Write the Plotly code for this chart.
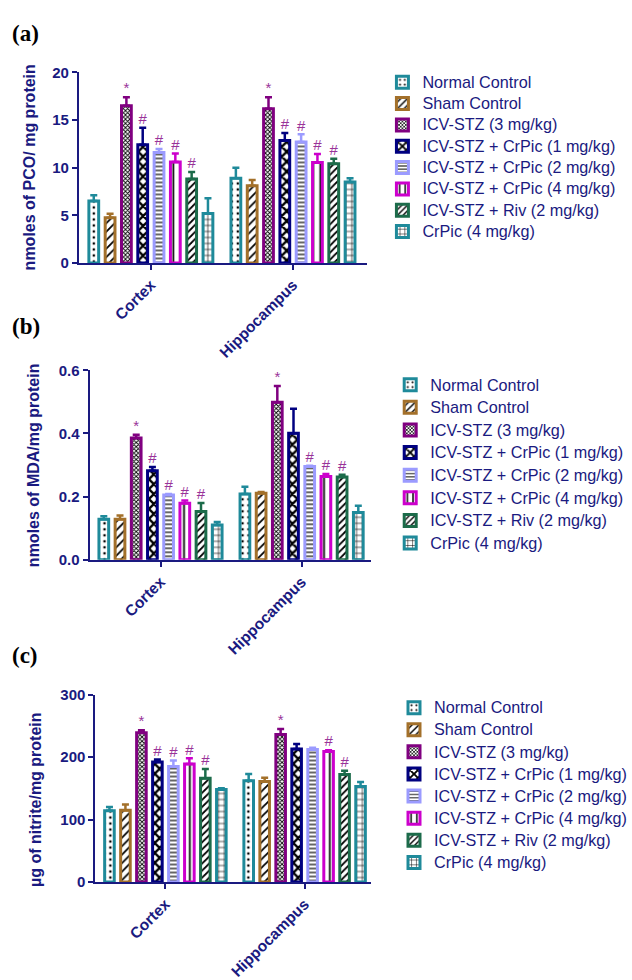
import plotly.graph_objects as go

groups = ["Normal Control", "Sham Control", "ICV-STZ (3 mg/kg)",
          "ICV-STZ + CrPic (1 mg/kg)", "ICV-STZ + CrPic (2 mg/kg)",
          "ICV-STZ + CrPic (4 mg/kg)", "ICV-STZ + Riv (2 mg/kg)", "CrPic (4 mg/kg)"]
regions = ["Cortex", "Hippocampus"]

# Panel (a): PCO
pco_cortex = [6.5, 4.75, 16.5, 12.4, 11.6, 10.6, 8.8, 5.2]
pco_cortex_err = [0.6, 0.4, 0.9, 1.8, 0.35, 0.9, 0.75, 1.6]
pco_hippo = [8.9, 8.1, 16.2, 12.85, 12.7, 10.55, 10.4, 8.5]
pco_hippo_err = [1.1, 0.6, 1.2, 0.8, 0.8, 0.9, 0.55, 0.4]
pco_cortex_sig = ["", "", "*", "#", "#", "#", "#", ""]
pco_hippo_sig = ["", "", "*", "#", "#", "#", "#", ""]

# Panel (b): MDA
mda_cortex = [0.128, 0.128, 0.386, 0.282, 0.205, 0.179, 0.153, 0.110]
mda_cortex_err = [0.010, 0.012, 0.010, 0.012, 0.003, 0.009, 0.027, 0.010]
mda_hippo = [0.208, 0.211, 0.499, 0.401, 0.295, 0.264, 0.262, 0.150]
mda_hippo_err = [0.023, 0.004, 0.051, 0.077, 0.003, 0.008, 0.007, 0.021]
mda_cortex_sig = ["", "", "*", "#", "#", "#", "#", ""]
mda_hippo_sig = ["", "", "*", "", "#", "#", "#", ""]

# Panel (c): nitrite
nit_cortex = [114, 115, 239, 192, 185, 189, 166, 148]
nit_cortex_err = [6, 9, 4, 4, 9.5, 9, 15, 2]
nit_hippo = [162, 161, 236, 213, 212, 209, 172, 153]
nit_hippo_err = [11, 6, 9, 8, 3, 2, 6, 7]
nit_cortex_sig = ["", "", "*", "#", "#", "#", "#", ""]
nit_hippo_sig = ["", "", "*", "", "", "#", "#", ""]

colors = ["#1F8A9A", "#A3702A", "#800080", "#000080", "#9B9BFF",
          "#CC00CC", "#1C6B4A", "#1F8A9A"]
patterns = [".", "/", "x", "x", "-", "|", "/", "+"]
pat_sizes = [6, 6, 3, 7, 4, 7, 5, 6]
pat_solid = [0.15, 0.3, 0.5, 0.55, 0.3, 0.25, 0.35, 0.2]

NAVY = "#1A1A80"
SIG = "#993399"
FONT = "Arial, Liberation Sans, sans-serif"

panels = [
    dict(cortex=pco_cortex, cerr=pco_cortex_err, hippo=pco_hippo, herr=pco_hippo_err,
         csig=pco_cortex_sig, hsig=pco_hippo_sig, yrange=[0, 20], dtick=5, fmt="",
         ydom=[1 - 260 / 980, 1 - 65 / 980], xdom=[81 / 632, 377 / 632],
         xrange=[-0.507, 1.52], title="nmoles of PCO/ mg protein", tx=30, ty=162,
         lx=393, ly=59, lfs=14.1, label="(a)", laby=25),
    dict(cortex=mda_cortex, cerr=mda_cortex_err, hippo=mda_hippo, herr=mda_hippo_err,
         csig=mda_cortex_sig, hsig=mda_hippo_sig, yrange=[0, 0.6], dtick=0.2, fmt=".1f",
         ydom=[1 - 564 / 980, 1 - 370 / 980], xdom=[92 / 632, 381 / 632],
         xrange=[-0.503, 1.49], title="nmoles of MDA/mg protein", tx=34, ty=467,
         lx=401, ly=368, lfs=15.1, label="(b)", laby=325),
    dict(cortex=nit_cortex, cerr=nit_cortex_err, hippo=nit_hippo, herr=nit_hippo_err,
         csig=nit_cortex_sig, hsig=nit_hippo_sig, yrange=[0, 300], dtick=100, fmt="",
         ydom=[1 - 894 / 980, 1 - 702 / 980], xdom=[98 / 632, 381 / 632],
         xrange=[-0.503, 1.475], title="µg of nitrite/mg protein", tx=37, ty=810,
         lx=405, ly=699, lfs=14.7, label="(c)", laby=662),
]

slot = 0.1148
bar_w = slot * 0.6

fig = go.Figure()
annotations = []
layout_axes = {}

for p_i, p in enumerate(panels):
    sfx = "" if p_i == 0 else str(p_i + 1)
    xref = "x" + sfx
    yref = "y" + sfx
    legname = "legend" if p_i == 0 else "legend" + str(p_i + 1)
    sig_x, sig_y, sig_t = [], [], []
    for g_i, name in enumerate(groups):
        off = (g_i - 3.5) * slot
        xs = [0 + off, 1 + off]
        ys = [p["cortex"][g_i], p["hippo"][g_i]]
        es = [p["cerr"][g_i], p["herr"][g_i]]
        fig.add_trace(go.Bar(
            x=xs, y=ys, width=[bar_w, bar_w],
            name=f'<span style="font-size:16.2px">{name}</span>',
            xaxis=xref, yaxis=yref, legend=legname,
            marker=dict(color="white",
                        line=dict(color=colors[g_i], width=3),
                        pattern=dict(shape=patterns[g_i], fgcolor="black",
                                     bgcolor="white", fillmode="replace",
                                     size=pat_sizes[g_i], solidity=pat_solid[g_i])),
            error_y=dict(type="data", symmetric=False, array=es, arrayminus=[0, 0],
                         color=colors[g_i], thickness=2.5, width=3.5),
        ))
        for r_i, (sg, top) in enumerate(zip([p["csig"][g_i], p["hsig"][g_i]],
                                             [ys[0] + es[0], ys[1] + es[1]])):
            if sg:
                sig_x.append(r_i + off)
                sig_y.append(top)
                sig_t.append(sg)
    fig.add_trace(go.Scatter(
        x=sig_x, y=sig_y, text=sig_t, mode="text", textposition="top center",
        textfont=dict(color=SIG, size=15, family=FONT), showlegend=False,
        xaxis=xref, yaxis=yref, hoverinfo="skip", cliponaxis=False))

    layout_axes["xaxis" + sfx] = dict(
        domain=p["xdom"], range=p["xrange"], anchor=yref,
        tickvals=[0, 1], ticktext=regions, tickangle=-45,
        showline=True, linecolor=NAVY, linewidth=2, ticks="outside",
        ticklen=5, tickwidth=2, tickcolor=NAVY, showgrid=False, zeroline=False,
        tickfont=dict(family=FONT, size=15.5, color=NAVY, weight="bold"),
        fixedrange=True)
    layout_axes["yaxis" + sfx] = dict(
        domain=p["ydom"], range=p["yrange"], anchor=xref, dtick=p["dtick"],
        tickformat=p["fmt"],
        showline=True, linecolor=NAVY, linewidth=2, ticks="outside",
        ticklen=5, tickwidth=2, tickcolor=NAVY, showgrid=False, zeroline=False,
        tickfont=dict(family=FONT, size=15, color=NAVY, weight="bold"),
        fixedrange=True)
    layout_axes[legname] = dict(
        x=p["lx"] / 632, y=1 - p["ly"] / 980, xanchor="left", yanchor="top",
        font=dict(family=FONT, size=p["lfs"], color=NAVY),
        bgcolor="rgba(0,0,0,0)", borderwidth=0)
    annotations.append(dict(
        text=p["title"], x=p["tx"] / 632, y=1 - p["ty"] / 980, xref="paper",
        yref="paper", textangle=-90, showarrow=False,
        font=dict(family=FONT, size=16, color=NAVY, weight="bold"),
        xanchor="center", yanchor="middle"))
    annotations.append(dict(
        text=p["label"], x=10 / 632, y=1 - p["laby"] / 980, xref="paper",
        yref="paper", showarrow=False, xanchor="left", yanchor="middle",
        font=dict(family="Times New Roman, Liberation Serif, serif", size=23,
                  color="black", weight="bold")))

fig.update_layout(
    width=632, height=980, margin=dict(l=0, r=0, t=0, b=0),
    paper_bgcolor="white", plot_bgcolor="white", barmode="overlay",
    showlegend=True, annotations=annotations, **layout_axes)

fig.write_html("out.html")
